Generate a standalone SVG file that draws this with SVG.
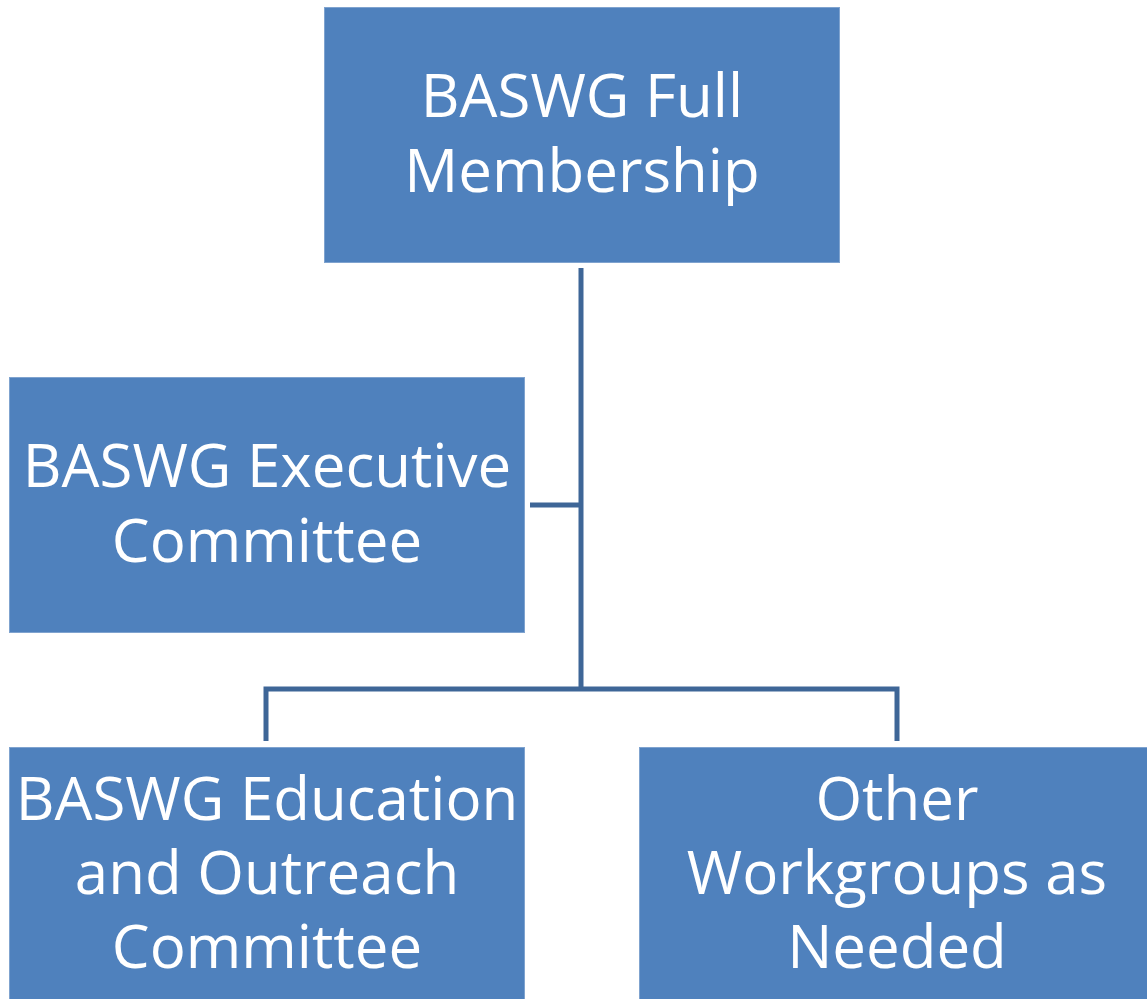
<svg xmlns="http://www.w3.org/2000/svg" width="1147" height="999" viewBox="0 0 1147 999">
<style>
.box{fill:#4F81BD;stroke:#7FA3CF;stroke-width:1}
.lbl{font-family:"Open Sans","DejaVu Sans",sans-serif;font-size:60px;fill:#FFFFFF;text-anchor:middle}
.con{fill:none;stroke:#3E6697;stroke-width:5}
</style>
<rect width="1147" height="999" fill="#FFFFFF"/>
<g id="connectors">
<path class="con" d="M581,268 V689"/>
<path class="con" d="M530,505 H581"/>
<path class="con" d="M266,741 V689 H897 V741"/>
</g>
<g id="full">
<rect class="box" x="324.5" y="7.5" width="515" height="255"/>
<text class="lbl" x="582" y="117">BASWG Full</text>
<text class="lbl" x="582" y="192">Membership</text>
</g>
<g id="exec">
<rect class="box" x="9.5" y="377.5" width="515" height="255"/>
<text class="lbl" x="267" y="487">BASWG Executive</text>
<text class="lbl" x="267" y="562">Committee</text>
</g>
<g id="edu">
<rect class="box" x="9.5" y="747.5" width="515" height="260"/>
<text class="lbl" x="267" y="820">BASWG Education</text>
<text class="lbl" x="267" y="894">and Outreach</text>
<text class="lbl" x="267" y="968">Committee</text>
</g>
<g id="other">
<rect class="box" x="639.5" y="747.5" width="515" height="260"/>
<text class="lbl" x="897" y="820">Other</text>
<text class="lbl" x="897" y="894">Workgroups as</text>
<text class="lbl" x="897" y="968">Needed</text>
</g>
</svg>
